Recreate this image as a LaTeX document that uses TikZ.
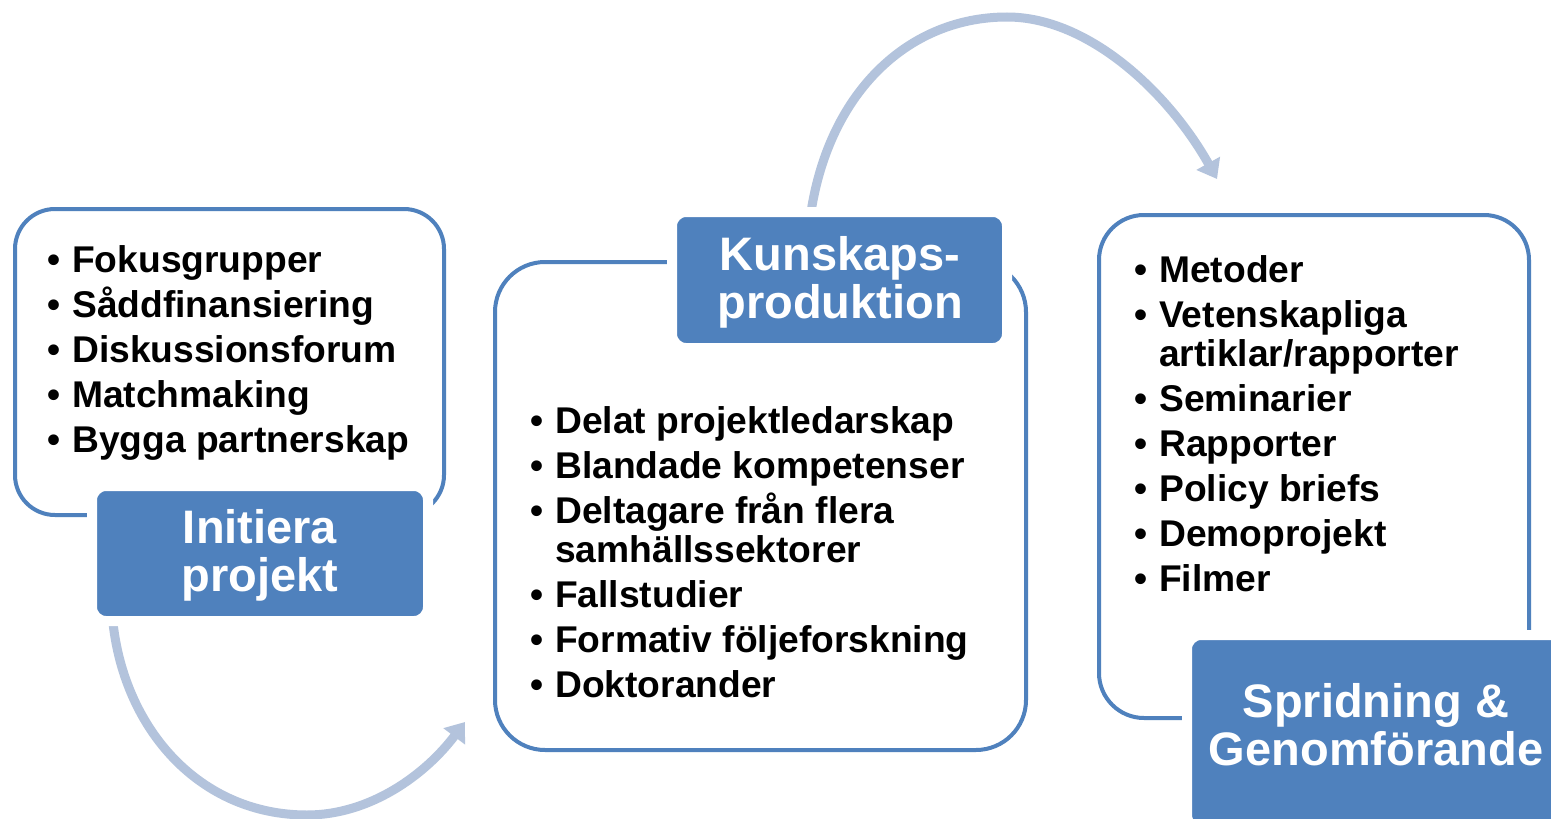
\documentclass[tikz,border=0pt]{standalone}
\usepackage{fontspec}
\setmainfont{Liberation Sans}
\usetikzlibrary{arrows.meta}
\definecolor{accent}{HTML}{4F81BD}
\definecolor{flowc}{HTML}{B3C3DC}
\newcommand\bitem[1]{•&\smash{#1}}
\newcommand\bcont[1]{&\smash{#1}}
\begin{document}
\begin{tikzpicture}[x=1pt,y=-1pt,
  outline/.style={draw=accent, line width=4pt, fill=white, rounded corners=#1, inner sep=0},
  labelbox/.style={fill=accent, draw=white, line width=10pt, rounded corners=14pt, inner sep=0},
  labeltext/.style={text=white, font=\fontsize{47}{48}\selectfont\bfseries, align=center, inner sep=0},
  listtext/.style={font=\fontsize{37.2}{39}\selectfont\bfseries, anchor=base west, inner sep=0},
  flow/.style={draw=flowc, line width=9pt, -{Triangle[width=26pt,length=18pt]}}
]
\useasboundingbox (0,0) rectangle (1551,819);
\clip (0,0) rectangle (1551,819);
\fill[white] (0,0) rectangle (1551,819);

% connectors
\coordinate (a1s) at (113,623);
\coordinate (a1e) at (465,722);
\coordinate (a2s) at (811,212);
\coordinate (a2e) at (1217,179);
\draw[flow] (a1s) .. controls (125,730) and (200,815) .. (307,815)
                  .. controls (370,815) and (425,775) .. (a1e);
\draw[flow] (a2s) .. controls (830,90) and (910,17) .. (1007,17)
                  .. controls (1090,17) and (1170,95) .. (a2e);

% outlined boxes
\node[outline=40pt, minimum width=429pt, minimum height=306pt] (box1) at (229.5,362) {};
\node[outline=50pt, minimum width=531pt, minimum height=488pt] (box2) at (760.5,506) {};
\node[outline=45pt, minimum width=430pt, minimum height=503pt] (box3) at (1314,466.5) {};

% label boxes
\node[labelbox, minimum width=336pt, minimum height=135pt] (lab1) at (260,553.5) {};
\node[labelbox, minimum width=335pt, minimum height=136pt] (lab2) at (839.5,280) {};
\node[labelbox, minimum width=386pt, minimum height=194pt] (lab3) at (1380,732) {};

\node[labeltext] (lab1t) at (260,555) {Initiera\\projekt};
\node[labeltext] (lab2t) at (840,282) {Kunskaps-\\produktion};
\node[labeltext] (lab3t) at (1376,725) {Spridning \&\\Genomförande};

% lists
\node[listtext] (list1) at (47.5,272) {\begin{tabular}[t]{@{}l@{\hspace{11.5pt}}l@{}}
\bitem{Fokusgrupper}\\[6pt]
\bitem{Såddfinansiering}\\[6pt]
\bitem{Diskussionsforum}\\[6pt]
\bitem{Matchmaking}\\[6pt]
\bitem{Bygga partnerskap}
\end{tabular}};

\node[listtext] (list2) at (530.5,433) {\begin{tabular}[t]{@{}l@{\hspace{11.5pt}}l@{}}
\bitem{Delat projektledarskap}\\[6pt]
\bitem{Blandade kompetenser}\\[6pt]
\bitem{Deltagare från flera}\\
\bcont{samhällssektorer}\\[6pt]
\bitem{Fallstudier}\\[6pt]
\bitem{Formativ följeforskning}\\[6pt]
\bitem{Doktorander}
\end{tabular}};

\node[listtext] (list3) at (1134.5,282) {\begin{tabular}[t]{@{}l@{\hspace{11.5pt}}l@{}}
\bitem{Metoder}\\[6pt]
\bitem{Vetenskapliga}\\
\bcont{artiklar/rapporter}\\[6pt]
\bitem{Seminarier}\\[6pt]
\bitem{Rapporter}\\[6pt]
\bitem{Policy briefs}\\[6pt]
\bitem{Demoprojekt}\\[6pt]
\bitem{Filmer}
\end{tabular}};
\end{tikzpicture}
\end{document}
